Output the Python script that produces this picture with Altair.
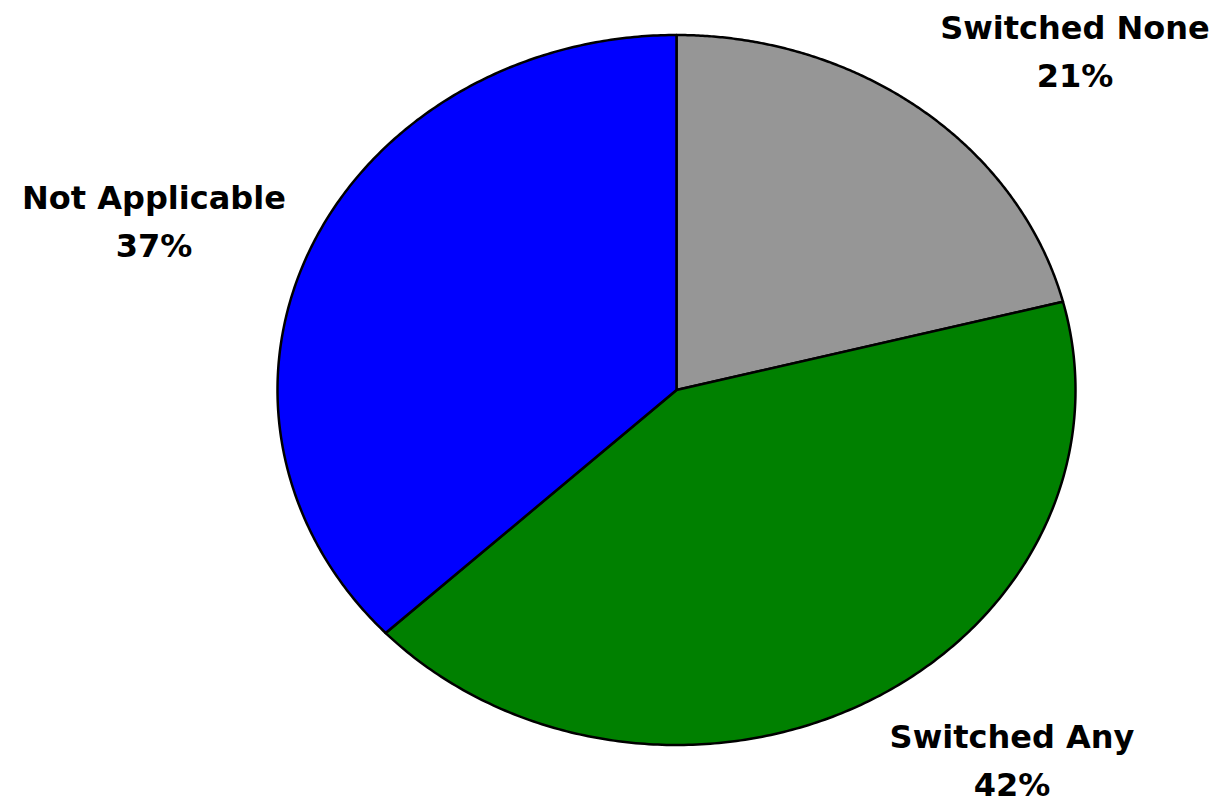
import altair as alt
import pandas as pd

# Slice data (percent of respondents), drawn clockwise from 12 o'clock
categories = ["Switched None", "Switched Any", "Not Applicable"]
values = [21, 42, 37]
colors = ["#969696", "#008000", "#0000FF"]

# Layout: ellipse centre and radii in pixels, label anchors (first-line baseline)
CX, CY, RX, RY = 676.5, 390, 399, 355
STEPS = 240
label_anchor = {
    "Switched None": (1075, 39),
    "Switched Any": (1012, 748),
    "Not Applicable": (154, 209),
}

W, H = 1220, 799

slices = pd.DataFrame({"category": categories, "value": values, "idx": range(len(categories))})

labels = pd.DataFrame({
    "category": categories,
    "text": [f"{c}\n{v}%" for c, v in zip(categories, values)],
    "lx": [label_anchor[c][0] for c in categories],
    "ly": [label_anchor[c][1] for c in categories],
})

xs = alt.Scale(domain=[0, W], range=[0, W])
ys = alt.Scale(domain=[0, H], range=[0, H])

pie = (
    alt.Chart(slices)
    .transform_joinaggregate(total="sum(value)")
    .transform_window(cum="sum(value)", sort=[alt.SortField("idx")])
    .transform_calculate(start="datum.cum - datum.value",
                         steps=f"sequence(-1, {STEPS + 2})")
    .transform_flatten(["steps"], as_=["step"])
    .transform_calculate(
        frac=f"(datum.start + datum.value * clamp(datum.step, 0, {STEPS}) / {STEPS}) / datum.total",
        centre=f"datum.step < 0 || datum.step > {STEPS}",
    )
    .transform_calculate(
        px=f"datum.centre ? {CX} : {CX} + {RX} * sin(2 * PI * datum.frac)",
        py=f"datum.centre ? {CY} : {CY} - {RY} * cos(2 * PI * datum.frac)",
    )
    .mark_line(filled=True, stroke="black", strokeWidth=2.5, strokeJoin="round", interpolate="linear")
    .encode(
        x=alt.X("px:Q", scale=xs, axis=None),
        y=alt.Y("py:Q", scale=ys, axis=None),
        order=alt.Order("step:Q"),
        color=alt.Color("category:N", scale=alt.Scale(domain=categories, range=colors), legend=None),
        detail="category:N",
    )
)

text = (
    alt.Chart(labels)
    .mark_text(font="DejaVu Sans", fontWeight="bold", fontSize=32, lineBreak="\n",
               lineHeight=48, align="center", baseline="alphabetic", color="black")
    .encode(
        x=alt.X("lx:Q", scale=xs, axis=None),
        y=alt.Y("ly:Q", scale=ys, axis=None),
        text="text:N",
    )
)

chart = (
    alt.layer(pie, text)
    .properties(width=W, height=H, autosize=alt.AutoSizeParams(type="none"), padding=0,
                background="white")
    .configure_view(stroke=None)
)

chart.save("out.html", embed_options={"renderer": "svg", "actions": False})
